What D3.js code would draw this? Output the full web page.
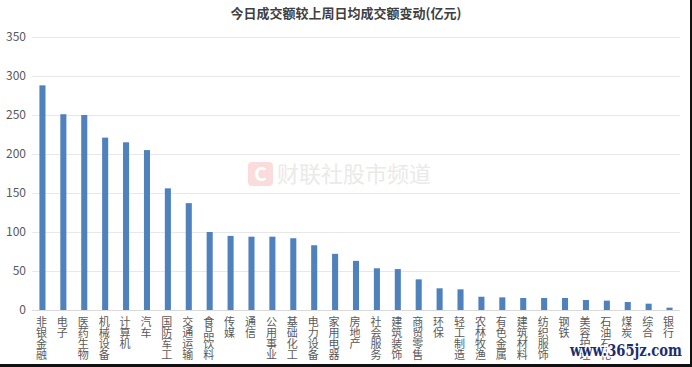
<!DOCTYPE html>
<html>
<head>
<meta charset="utf-8">
<script src="https://cdn.jsdelivr.net/npm/d3@7"></script>
<style>
  html, body { margin: 0; padding: 0; background: #fff; }
  svg { display: block; }
</style>
</head>
<body>
<svg id="chart" width="692" height="367"></svg>
<script>
const title = "今日成交额较上周日均成交额变动(亿元)";
const categories = ["非银金融","电子","医药生物","机械设备","计算机","汽车","国防军工","交通运输","食品饮料","传媒","通信","公用事业","基础化工","电力设备","家用电器","房地产","社会服务","建筑装饰","商贸零售","环保","轻工制造","农林牧渔","有色金属","建筑材料","纺织服饰","钢铁","美容护理","石油石化","煤炭","综合","银行"];
const values = [288, 251, 250, 221, 215, 205, 156, 137, 100, 95, 94, 94, 92, 83, 72, 63, 53.5, 52.5, 39.3, 27.8, 26.5, 17, 16.2, 15.4, 15.4, 15.4, 12.8, 12, 10.3, 8.1, 3];
const yTicks = [0, 50, 100, 150, 200, 250, 300, 350];

const svg = d3.select("#chart");
const FONT = "'Noto Sans CJK SC', 'Microsoft YaHei', sans-serif";

const x = d3.scaleBand().domain(categories).range([32, 680]).paddingInner(0.71).paddingOuter(0.355);
const y = d3.scaleLinear().domain([0, 350]).range([310, 37]);

// watermark
const wm = svg.append("g");
wm.append("rect").attr("x", 248).attr("y", 162).attr("width", 25).attr("height", 24).attr("rx", 4).attr("fill", "#fbdcdc");
wm.append("text").attr("x", 260.5).attr("y", 181).attr("text-anchor", "middle")
  .attr("font-family", FONT).attr("font-weight", "bold").attr("font-size", 19).attr("fill", "#ffffff").text("C");
wm.append("text").attr("x", 277).attr("y", 182).attr("font-family", FONT).attr("font-size", 22)
  .attr("fill", "#ece9e9").text("财联社股市频道");

// gridlines
svg.append("g").selectAll("line").data(yTicks).join("line")
  .attr("x1", 32).attr("x2", 680)
  .attr("y1", d => Math.round(y(d)) + 0.5).attr("y2", d => Math.round(y(d)) + 0.5)
  .attr("stroke", d => d === 0 ? "#d9d9d9" : "#e8e8e8").attr("stroke-width", 1);

// y axis labels
const yAxis = d3.axisLeft(y).tickValues(yTicks).tickSize(0).tickPadding(0);
const ya = svg.append("g").attr("transform", "translate(26,0)").call(yAxis);
ya.select(".domain").remove();
ya.selectAll("text").attr("font-family", FONT).attr("font-size", 12).attr("fill", "#595959");

// bars
svg.append("g").selectAll("rect").data(values).join("rect")
  .attr("x", (d, i) => x(categories[i]))
  .attr("width", x.bandwidth())
  .attr("y", d => y(d))
  .attr("height", d => y(0) - y(d))
  .attr("fill", "#4f81bd");

// x labels, vertical upright
svg.append("g").selectAll("text").data(categories).join("text")
  .attr("x", d => x(d) + x.bandwidth() / 2 - 1)
  .attr("y", 316)
  .attr("font-family", FONT).attr("font-size", 11).attr("fill", "#595959")
  .style("writing-mode", "vertical-rl")
  .style("text-orientation", "upright")
  .attr("text-anchor", "start")
  .text(d => d);

// title
svg.append("text").attr("x", 346).attr("y", 18).attr("text-anchor", "middle")
  .attr("font-family", FONT).attr("font-weight", "bold").attr("font-size", 13)
  .attr("fill", "#404040").text(title);

// site watermark bottom right
svg.append("text").attr("x", 570).attr("y", 356)
  .attr("font-family", "'DejaVu Serif', serif").attr("font-size", 16).attr("font-weight", "bold")
  .attr("textLength", 112).attr("lengthAdjust", "spacingAndGlyphs")
  .attr("fill", "#1c2d6e").attr("stroke", "#ffffff").attr("stroke-width", 3).attr("paint-order", "stroke")
  .text("www.365jz.com");

// frame edges
svg.append("rect").attr("x", 690).attr("y", 0).attr("width", 2).attr("height", 367).attr("fill", "#111");
svg.append("rect").attr("x", 0).attr("y", 364).attr("width", 692).attr("height", 3).attr("fill", "#111");
</script>
</body>
</html>
